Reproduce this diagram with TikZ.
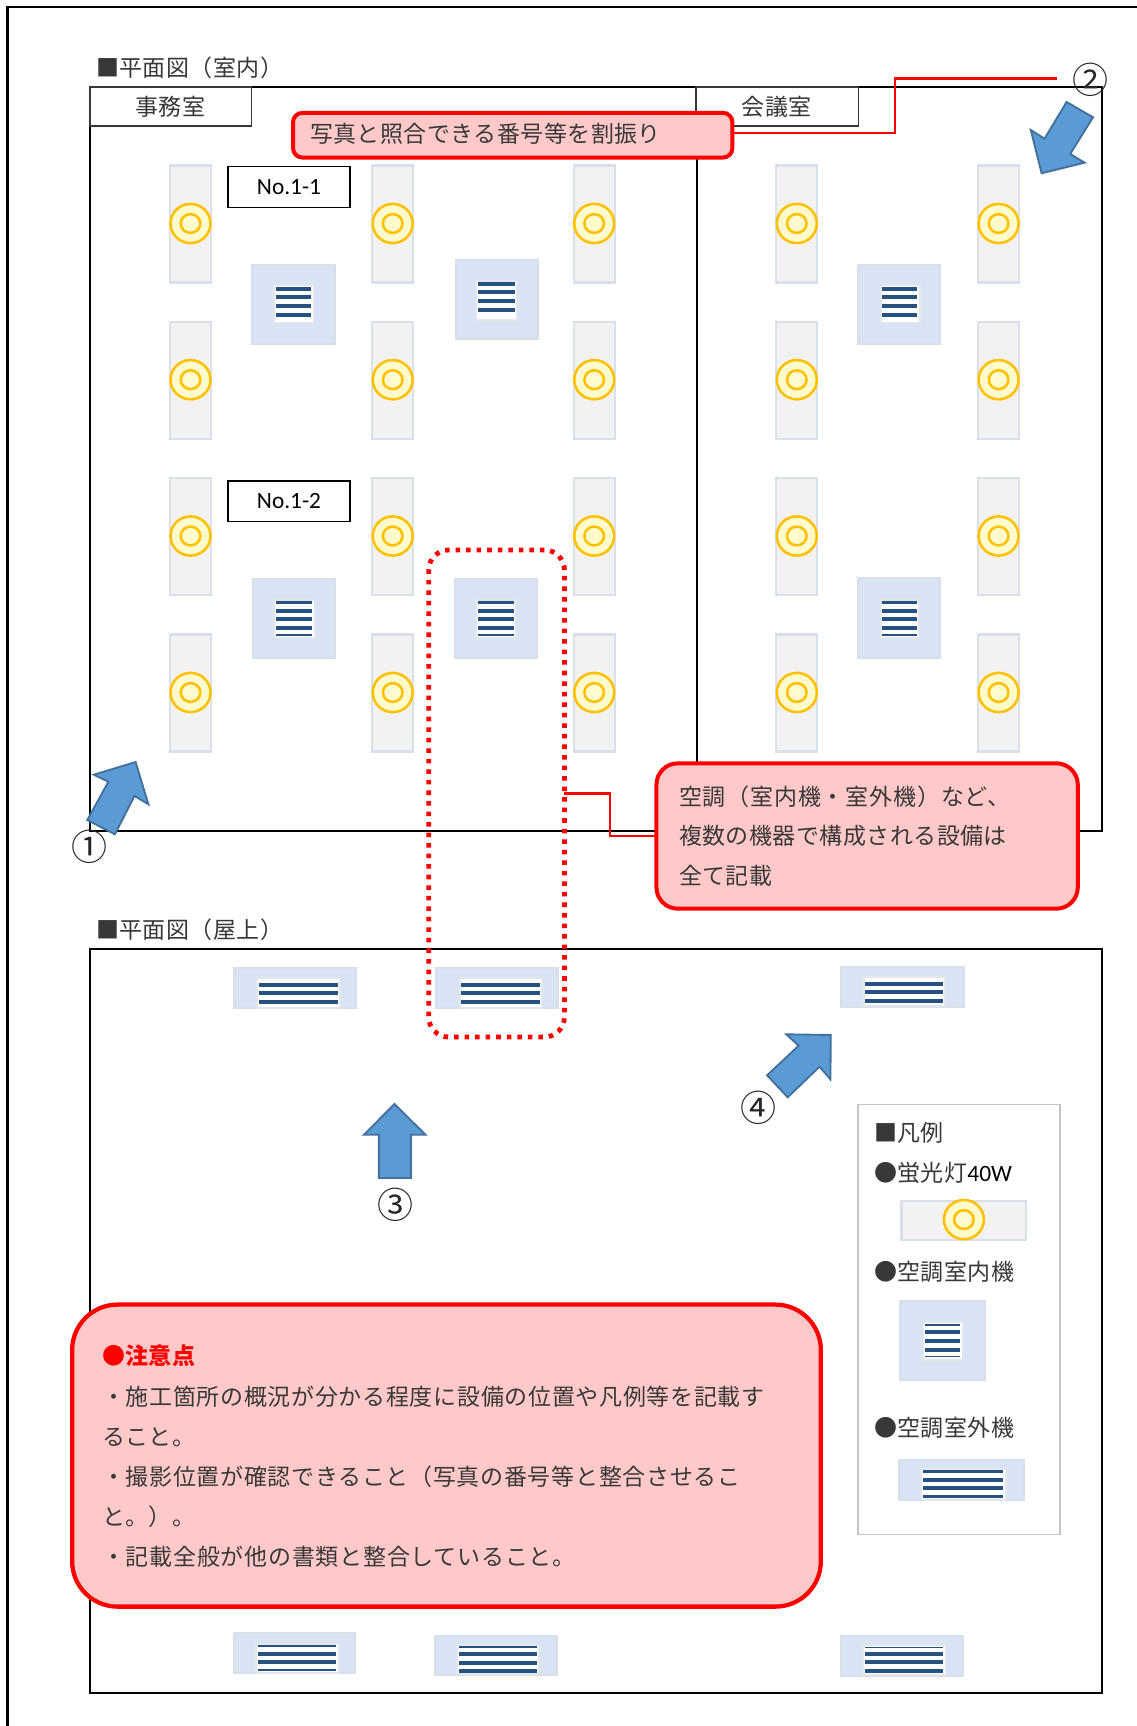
\documentclass[tikz,border=0pt]{standalone}
\usepackage{fontspec}
\newfontfamily\jp[LetterSpace=2]{Noto Sans CJK JP}
\newfontfamily\jpnum{Noto Sans CJK JP}
\newfontfamily\latn{Carlito}
\definecolor{inkc}{HTML}{383838}
\definecolor{calloutfill}{HTML}{FFC9C9}
\definecolor{tubefill}{HTML}{F2F2F2}
\definecolor{tubeline}{HTML}{D9E0EA}
\definecolor{lampline}{HTML}{FFC000}
\definecolor{lampfill}{HTML}{FFFBCC}
\definecolor{acfill}{HTML}{DAE3F3}
\definecolor{acline}{HTML}{D8DFEB}
\definecolor{grilleline}{HTML}{E2E6EF}
\definecolor{stripe}{HTML}{265282}
\definecolor{arrowfill}{HTML}{5B9BD5}
\definecolor{arrowline}{HTML}{41719C}
\definecolor{legendline}{HTML}{C4C4C4}
\tikzset{
  txt/.style={anchor=west,inner sep=0pt,outer sep=0pt,text=inkc,font=\fontsize{17.25}{20}\selectfont\jp,text height=15.2pt,text depth=2.05pt},
  numtxt/.style={anchor=center,inner sep=0pt,outer sep=0pt,text=black!85,font=\fontsize{27}{30}\selectfont\jpnum,text height=23.76pt,text depth=3.24pt},
  tagbox/.style={draw=black,line width=1pt,fill=white,inner sep=0pt,outer sep=0pt,text=black,font=\fontsize{17.5}{20}\selectfont\latn},
  roomlabel/.style={draw=inkc,line width=1pt,fill=white},
  framepath/.style={draw=black,line width=1.7pt},
  callout/.style={draw=red,fill=calloutfill,inner sep=0pt,outer sep=0pt},
  leader/.style={draw=red,line width=1.9pt},
  viewarrow/.style={fill=arrowfill,draw=arrowline,line width=1.4pt,line join=miter},
}
\newcommand\tube[4]{\draw[fill=tubefill,draw=tubeline,line width=1.7pt] (#1,#2) rectangle (#3,#4);}
\newcommand\lamp[2]{%
  \draw[fill=lampfill,draw=lampline,line width=1.9pt] (#1,#2) ellipse [x radius=20,y radius=19.6];
  \draw[fill=lampfill,draw=lampline,line width=1.9pt] (#1,#2) ellipse [x radius=9.8,y radius=9.4];}
\newcommand\acbox[4]{\draw[fill=acfill,draw=acline,line width=1.5pt] (#1,#2) rectangle (#3,#4);}
\newcommand\grille[7]{%
  \draw[fill=white,draw=grilleline,line width=1.5pt] (#1,#2) rectangle (#3,#4);
  \foreach \sy/\st in {#7} {\fill[stripe] (#5,\sy-\st/2) rectangle (#6,\sy+\st/2);}}
\begin{document}
\begin{tikzpicture}[x=0.75pt,y=-0.75pt]
\useasboundingbox (0,0) rectangle (1137,1726);
\fill[white] (0,0) rectangle (1137,1726);
% page frame
\draw[framepath,line width=2pt] (7.3,1726) -- (7.3,7) -- (1137,7);
% titles
\node[txt] (title1) at (96,67.7) {■平面図（室内）};
\node[txt] (title2) at (96,929.3) {■平面図（屋上）};
% frames
\draw[framepath] (90,87) rectangle (1102,831);
\draw[framepath] (697,87) -- (697,831);
\draw[framepath] (90,948.7) rectangle (1102,1692.7);
% room labels
\draw[roomlabel] (90,87) rectangle (251.6,126);
\draw[roomlabel] (696,87) rectangle (858.2,126);
\node[txt,anchor=center] (room1) at (170.5,106.5) {事務室};
\node[txt,anchor=center] (room2) at (776.9,106.5) {会議室};
% light fittings
\foreach \cx in {190.5,392.7,594.2,796.8,998.6} {
  \foreach \ty in {164.5,320.7,477,633.5} {
    \tube{\cx-20.5}{\ty+1}{\cx+20.5}{\ty+118}
    \lamp{\cx}{\ty+59}
  }
}
% tags
\node[tagbox,minimum width=91.5pt,minimum height=30.4pt] (tag1) at (289,187) {No.1-1};
\node[tagbox,minimum width=91.5pt,minimum height=30.4pt] (tag2) at (289,501.3) {No.1-2};
% indoor units
\acbox{252}{265}{334.5}{343.5}
\grille{274}{285.5}{313.5}{323.5}{276}{311}{288.7/4,297/4,305.7/4,314.7/4}
\acbox{456}{260}{537.5}{338.5}
\grille{476}{281.5}{516.5}{320}{478}{514.5}{284/4,292.5/4,301/4,310/4}
\acbox{858.3}{265}{940}{343.5}
\grille{880.5}{285.5}{919.5}{323.5}{882}{917}{288.7/4,297/4,305.7/4,314.7/4}
\acbox{253.3}{579}{335.3}{658}
\grille{274}{599.5}{314.5}{637.5}{275.7}{312}{602.7/2.5,610.7/4.3,619.3/4.3,628.3/4.3,635.3/1.8}
\acbox{455}{579}{537}{658}
\grille{476.3}{599.5}{516.3}{637.5}{478}{514}{602.7/2.5,610.7/4.3,619.3/4.3,628.3/4.3,635.3/1.8}
\acbox{858.3}{578}{940}{658}
\grille{880.5}{599.5}{919}{637.5}{882}{917}{602.7/2.5,610.7/4.3,619.3/4.3,628.3/4.3,635.3/1.8}
% outdoor units (top)
\acbox{234}{968}{356}{1008}
\grille{256.5}{978}{339.5}{1007.5}{259}{337.5}{984.7/4,993/4,1001.7/4}
\acbox{436}{968}{558.3}{1008}
\grille{459.5}{978}{541.5}{1007.5}{461}{539.6}{984.7/4,993/4,1001.7/4}
\acbox{841.3}{966.5}{963.5}{1006.5}
\grille{863.5}{976.5}{945.3}{1006}{865}{943.2}{983.7/4,992/4,1000.7/4}
% outdoor units (bottom)
\acbox{234}{1633}{354.5}{1673}
\grille{255.5}{1643.5}{338.5}{1672.5}{258}{336}{1646/2.2,1654/4.3,1662/4.3,1670/2.2}
\acbox{435}{1635.7}{556.8}{1674.5}
\grille{457}{1645}{539}{1674}{458.5}{536.7}{1647/1.5,1654/4,1662.7/4,1671/4}
\acbox{841}{1635.7}{963.3}{1675.5}
\grille{863}{1645}{945.5}{1675}{865}{943.3}{1647.3/1.5,1653.7/4,1662.3/4,1671.3/4}
% view arrows
\draw[viewarrow] (135.6,762) -- (148.4,804.3) -- (134.5,796) -- (114.9,834.3) -- (87.3,820) -- (108.4,781.7) -- (93.8,774.7) -- cycle;
\draw[viewarrow] (1066.6,102) -- (1093,117.3) -- (1070.2,154) -- (1084.6,162.7) -- (1041.6,173.3) -- (1030.8,130) -- (1044.5,138.7) -- cycle;
\draw[viewarrow] (394.5,1104) -- (425.5,1134.7) -- (410.9,1134.7) -- (410.9,1178) -- (378.9,1178) -- (378.9,1134.7) -- (363.9,1134.7) -- cycle;
\draw[viewarrow] (830.8,1035) -- (830.4,1079.3) -- (819.5,1066.7) -- (787.7,1097.3) -- (767.1,1075.3) -- (798.6,1045.7) -- (786.3,1034.3) -- cycle;
% numbers
\node[numtxt] (n1) at (89,846.5) {①};
\node[numtxt] (n2) at (1090.8,79.5) {②};
\node[numtxt] (n3) at (395,1204.5) {③};
\node[numtxt] (n4) at (758,1107.7) {④};
% callouts and leaders
\node[callout,line width=3pt,rounded corners=7pt,minimum width=329.5pt,minimum height=33.5pt] (c1) at (512.7,135.2) {};
\node[txt] (c1t) at (310,133.5) {写真と照合できる番号等を割振り};
\coordinate (jog1) at (894.8,78.7);
\coordinate (c1end) at (1056.8,78.7);
\draw[leader] ([yshift=1.5pt]c1.east) -| (jog1) -- (c1end);
\node[draw=red,line width=3.6pt,dash pattern=on 3.4pt off 4.5pt,rounded corners=15pt,inner sep=0pt,outer sep=0pt,minimum width=101.8pt,minimum height=365.3pt] (dots) at (496.55,793.5) {};
\node[callout,line width=3pt,rounded corners=16pt,minimum width=316pt,minimum height=109pt] (c2) at (867.1,836) {};
\coordinate (jog2) at (609.8,800);
\draw[leader] (dots.east) -- (jog2 |- dots.east) -- (jog2 |- c2.west) -- (c2.west);
\node[txt] (c2a) at (679,796.7) {\addfontfeature{LetterSpace=3.6}空調（室内機・室外機）など、};
\node[txt] (c2b) at (679,835.7) {複数の機器で構成される設備は};
\node[txt] (c2c) at (679,875.3) {全て記載};
\node[callout,line width=3.2pt,rounded corners=34pt,minimum width=561.5pt,minimum height=226.5pt] (c3) at (446.5,1455.6) {};
\node[txt,text=red,font=\fontsize{17.25}{20}\selectfont\jp\bfseries] (c3h) at (102,1356) {●注意点};
\node[txt] (c3a) at (102,1396.7) {\addfontfeature{LetterSpace=3}・施工箇所の概況が分かる程度に設備の位置や凡例等を記載す};
\node[txt] (c3b) at (102,1436.7) {ること。};
\node[txt] (c3c) at (102,1476.7) {\addfontfeature{LetterSpace=3}・撮影位置が確認できること（写真の番号等と整合させるこ};
\node[txt] (c3d) at (102,1516.7) {と。）。};
\node[txt] (c3e) at (102,1556.7) {\addfontfeature{LetterSpace=3.3}・記載全般が他の書類と整合していること。};
% legend
\draw[draw=legendline,line width=1.3pt,fill=white] (858,1104.5) rectangle (1060,1534.5);
\node[txt] (lg0) at (874,1132.5) {■凡例};
\node[txt] (lg1) at (874,1173) {●蛍光灯{\color{black}\fontsize{17.6}{20}\selectfont\latn 40W}};
\tube{901.5}{1201}{1026}{1240}
\lamp{963.9}{1219.6}
\node[txt] (lg2) at (874,1272) {●空調室内機};
\acbox{900}{1300.5}{985}{1379.5}
\grille{923}{1322}{962.5}{1360}{925}{960}{1325/2,1332.3/3.8,1341/3.8,1349.7/3.8,1356.3/1.3}
\node[txt] (lg3) at (874,1428) {●空調室外機};
\acbox{898.5}{1459.7}{1023.5}{1499.5}
\grille{921}{1468.5}{1005.5}{1499.5}{922.7}{1003}{1471.7/3.3,1480/4,1488.3/4,1496.7/3.3}
\end{tikzpicture}
\end{document}
